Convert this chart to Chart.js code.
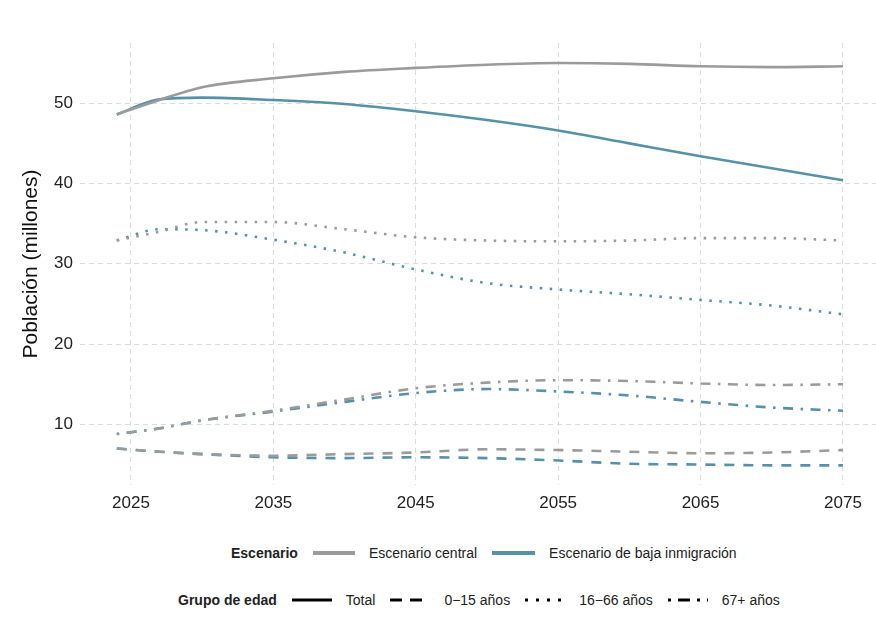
<!DOCTYPE html>
<html>
<head>
<meta charset="utf-8">
<script src="https://cdn.jsdelivr.net/npm/chart.js@4"></script>
<style>
  body { margin: 0; background: #fff; font-family: "Liberation Sans", Arial, sans-serif; }
  #wrap { position: relative; width: 876px; height: 623px; }
  #chartBox { position: absolute; left: 0; top: 0; width: 876px; height: 530px; }
  .legend { position: absolute; left: 0; width: 876px; display: flex; align-items: center; font-size: 14px; color: #222; }
  .legend b { font-weight: bold; margin-right: 15px; }
  .legend svg { margin-right: 14px; }
  .legend span.lab { margin-right: 15px; }
</style>
</head>
<body>
<div id="wrap">
  <div id="chartBox"><canvas id="chart"></canvas></div>
  <div class="legend" id="leg1" style="top:545px; padding-left:231px;">
    <b>Escenario</b>
    <svg width="42" height="8"><line x1="0" y1="4" x2="42" y2="4" stroke="#9b9b9b" stroke-width="4"/></svg>
    <span class="lab">Escenario central</span>
    <svg width="43" height="8"><line x1="0" y1="4" x2="43" y2="4" stroke="#5691aa" stroke-width="4"/></svg>
    <span class="lab">Escenario de baja inmigración</span>
  </div>
  <div class="legend" id="leg2" style="top:592px; padding-left:178px;">
    <b>Grupo de edad</b>
    <svg width="40" height="8"><line x1="0" y1="4" x2="40" y2="4" stroke="#000" stroke-width="3"/></svg>
    <span class="lab">Total</span>
    <svg width="40" height="8"><line x1="0" y1="4" x2="40" y2="4" stroke="#000" stroke-width="3" stroke-dasharray="12 8"/></svg>
    <span class="lab">0−15 años</span>
    <svg width="40" height="8"><line x1="0" y1="4" x2="40" y2="4" stroke="#000" stroke-width="3" stroke-dasharray="3 8"/></svg>
    <span class="lab">16−66 años</span>
    <svg width="40" height="8"><line x1="0" y1="4" x2="40" y2="4" stroke="#000" stroke-width="3" stroke-dasharray="3 7 12 7"/></svg>
    <span class="lab">67+ años</span>
  </div>
</div>
<script>
const years = [2024, 2027, 2030, 2035, 2040, 2045, 2050, 2055, 2060, 2065, 2070, 2075];
const xTicks = [2025, 2035, 2045, 2055, 2065, 2075];
const yTicks = [10, 20, 30, 40, 50];

// Escenario central
const centralTotal = [48.6, 50.4, 52.0, 53.1, 53.9, 54.4, 54.8, 55.0, 54.9, 54.6, 54.5, 54.6];
const central0_15 = [7.0, 6.6, 6.3, 6.1, 6.3, 6.5, 6.9, 6.8, 6.6, 6.4, 6.5, 6.8];
const central16_66 = [32.9, 34.0, 35.2, 35.2, 34.3, 33.3, 32.9, 32.8, 32.9, 33.2, 33.2, 32.9];
const central67 = [8.8, 9.5, 10.5, 11.7, 13.1, 14.5, 15.2, 15.5, 15.4, 15.1, 14.9, 15.0];

// Escenario de baja inmigración
const bajaTotal = [48.6, 50.5, 50.7, 50.4, 49.9, 49.0, 47.9, 46.6, 45.0, 43.4, 41.9, 40.4];
const baja0_15 = [7.0, 6.6, 6.3, 5.9, 5.8, 5.9, 5.8, 5.5, 5.1, 5.0, 4.9, 4.9];
const baja16_66 = [32.9, 34.3, 34.2, 33.0, 31.4, 29.3, 27.6, 26.8, 26.2, 25.5, 24.8, 23.7];
const baja67 = [8.8, 9.5, 10.5, 11.6, 12.8, 13.9, 14.4, 14.1, 13.6, 12.8, 12.1, 11.7];

const grey = '#9b9b9b';
const blue = '#5691aa';
const dashes = { total: [], kids: [10, 9], work: [2.5, 7.5], old: [2.5, 7.5, 10, 7.5] };

function series(vals, color, dash) {
  return {
    data: years.map((y, i) => ({ x: y, y: vals[i] })),
    borderColor: color,
    borderWidth: 2.6,
    borderDash: dash,
    borderCapStyle: 'butt',
    pointRadius: 0,
    fill: false,
    cubicInterpolationMode: 'monotone'
  };
}

const ctx = document.getElementById('chart').getContext('2d');
new Chart(ctx, {
  type: 'line',
  data: {
    datasets: [
      series(centralTotal, grey, dashes.total),
      series(central0_15, grey, dashes.kids),
      series(central16_66, grey, dashes.work),
      series(central67, grey, dashes.old),
      series(bajaTotal, blue, dashes.total),
      series(baja0_15, blue, dashes.kids),
      series(baja16_66, blue, dashes.work),
      series(baja67, blue, dashes.old)
    ]
  },
  options: {
    responsive: true,
    maintainAspectRatio: false,
    animation: false,
    layout: { padding: { top: 43, right: 0, left: 0, bottom: 0 } },
    plugins: { legend: { display: false }, tooltip: { enabled: false } },
    scales: {
      x: {
        type: 'linear',
        min: 2021.42,
        max: 2077.32,
        afterBuildTicks: (axis) => { axis.ticks = xTicks.map(v => ({ value: v })); },
        afterFit: (axis) => { axis.height = 45; },
        ticks: {
          padding: 8,
          color: '#222',
          font: { family: 'Liberation Sans', size: 17 },
          callback: (v) => String(v),
          maxRotation: 0
        },
        grid: { color: '#dcdcdc', lineWidth: 1, drawTicks: false },
        border: { display: false, dash: [5, 4] }
      },
      y: {
        min: 2.45,
        max: 57.5,
        afterBuildTicks: (axis) => { axis.ticks = yTicks.map(v => ({ value: v })); },
        afterFit: (axis) => { axis.width = 80; },
        ticks: {
          padding: 7,
          color: '#222',
          font: { family: 'Liberation Sans', size: 17 }
        },
        title: {
          display: true,
          text: 'Población (millones)',
          color: '#111',
          font: { family: 'Liberation Sans', size: 21 },
          padding: { top: 19, bottom: 0 }
        },
        grid: { color: '#dcdcdc', lineWidth: 1, drawTicks: false },
        border: { display: false, dash: [5, 4] }
      }
    }
  }
});
</script>
</body>
</html>
